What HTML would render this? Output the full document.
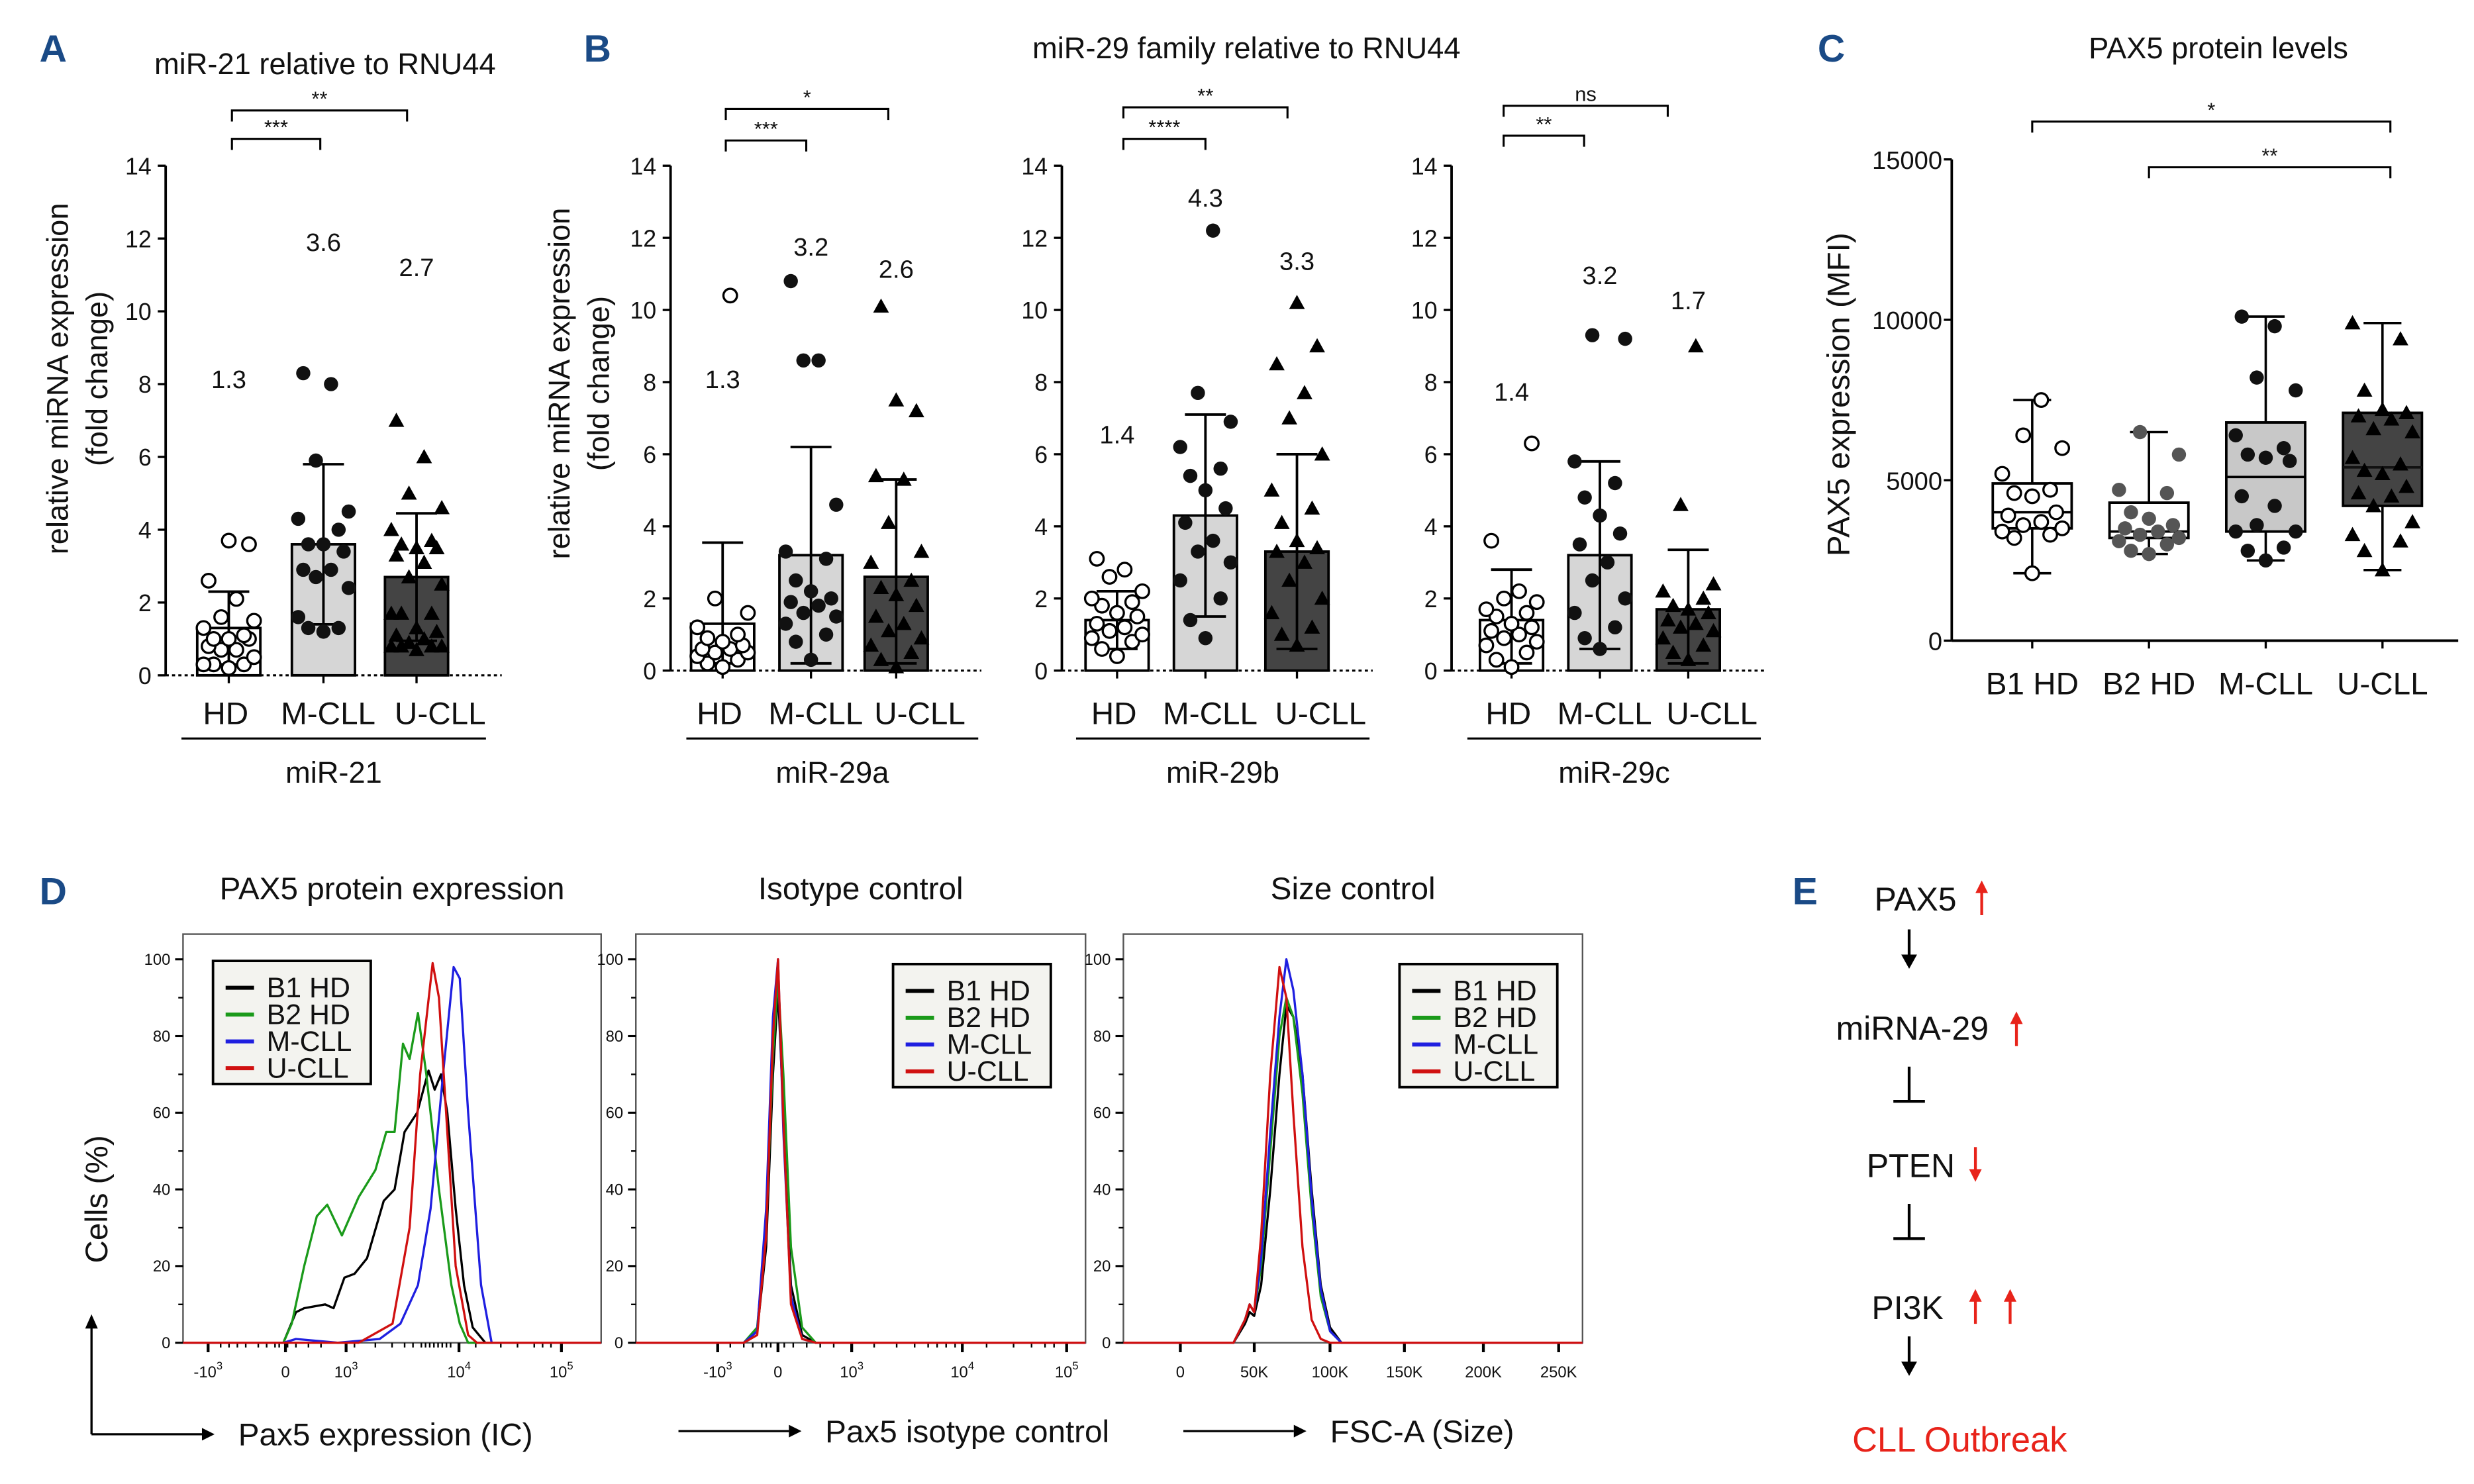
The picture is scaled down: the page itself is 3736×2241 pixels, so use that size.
<!DOCTYPE html>
<html><head><meta charset="utf-8"><style>
html,body{margin:0;padding:0;background:#fff}
svg{display:block}
text{font-family:"Liberation Sans",Arial,sans-serif;fill:#111}
</style></head><body>
<svg id="fig" width="3736" height="2241" viewBox="0 0 1568 940.5" xmlns="http://www.w3.org/2000/svg">
<rect width="1568" height="940.5" fill="#fff"/>
<g id="g"></g>
</svg>
<script>
// ---------- DATA ----------
const barGroups = ["HD","M-CLL","U-CLL"];
const miR21Means = [1.3,3.6,2.7];
const miR21SD = [1.0,2.2,1.75];
const miR29aMeans = [1.3,3.2,2.6];
const miR29aSD = [2.25,3.0,2.7];
const miR29bMeans = [1.4,4.3,3.3];
const miR29bSD = [0.8,2.8,2.7];
const miR29cMeans = [1.4,3.2,1.7];
const miR29cSD = [1.4,2.6,1.65];
const yTicksMiR = [0,2,4,6,8,10,12,14];
const miR21HD = [0.2,0.3,0.3,0.3,0.5,0.7,0.7,0.8,1.0,1.0,1.0,1.1,1.3,1.5,1.6,2.1,2.6,3.6,3.7];
const miR21M = [1.2,1.3,1.3,1.6,2.4,2.7,2.9,2.9,3.4,3.6,3.6,4.0,4.3,4.5,5.9,8.0,8.3];
const miR21U = [0.7,0.8,0.8,0.8,0.8,0.9,1.0,1.1,1.2,1.3,1.7,1.7,1.7,2.5,2.7,3.1,3.3,3.5,3.5,3.6,3.7,4.0,4.6,5.0,6.0,7.0];
const miR29aHD = [0.1,0.2,0.3,0.4,0.5,0.5,0.6,0.6,0.7,0.8,0.9,1.0,1.2,1.6,2.0,10.4];
const miR29aM = [0.3,0.8,1.0,1.3,1.5,1.6,1.8,1.9,2.0,2.2,2.5,3.1,3.3,4.6,8.6,8.6,10.8];
const miR29aU = [0.1,0.3,0.5,0.7,0.9,1.1,1.3,1.5,1.8,2.1,2.3,2.5,3.0,3.3,4.1,5.3,5.4,7.2,7.5,10.1];
const miR29bHD = [0.4,0.6,0.8,0.9,1.0,1.1,1.2,1.3,1.5,1.6,1.8,1.9,2.0,2.2,2.6,2.8,3.1];
const miR29bM = [0.9,1.4,2.0,2.5,3.0,3.3,3.6,4.1,4.5,5.0,5.4,5.6,6.2,6.9,7.7,12.2];
const miR29bU = [0.7,1.0,1.2,1.6,2.0,2.5,3.0,3.3,3.4,3.6,4.1,4.5,5.0,6.0,7.0,7.7,8.5,9.0,10.2];
const miR29cHD = [0.1,0.3,0.5,0.7,0.8,0.9,1.0,1.1,1.2,1.3,1.5,1.6,1.7,1.9,2.0,2.2,3.6,6.3];
const miR29cM = [0.6,0.9,1.2,1.6,2.0,2.5,3.0,3.5,3.8,4.3,4.8,5.2,5.8,9.2,9.3];
const miR29cU = [0.3,0.5,0.7,0.9,1.1,1.2,1.3,1.4,1.6,1.7,1.8,2.0,2.2,2.4,4.6,9.0];
const boxGroups = ["B1 HD","B2 HD","M-CLL","U-CLL"];
const boxMin = [2100,2700,2500,2200];
const boxQ1 = [3500,3200,3400,4200];
const boxMed = [4000,3400,5100,5400];
const boxQ3 = [4900,4300,6800,7100];
const boxMax = [7500,6500,10100,9900];
const yTicksPax = [0,5000,10000,15000];
const paxB1 = [2100,3200,3300,3400,3500,3600,3700,3900,4000,4500,4600,4700,5200,6000,6400,7500];
const paxB2 = [2700,2800,3000,3100,3200,3300,3400,3500,3600,3800,4000,4600,4700,5800,6500];
const paxM = [2500,2800,2900,3400,3400,3600,4200,4500,5600,5700,5800,6000,6400,7800,8200,9800,10100];
const paxU = [2200,2800,3100,3300,3700,4200,4500,4600,4800,5200,5300,5500,5700,6500,6600,6900,7000,7100,7200,7800,9400,9900];
const histTicksY = [0,20,40,60,80,100];
const legendNames = ["B1 HD","B2 HD","M-CLL","U-CLL"];
const legendColors = ["#000","#1a9a1a","#1f1fe0","#d01010"];
// histogram curves: x in axis units 0..100, y in % of max
const h1X_B1 = [0,24,27,29,34,36,38.6,41,44,48,50.6,53,56,58.7,60.2,61.7,63.2,65.2,67.2,69.3,72.3,100];
const h1Y_B1 = [0,0,8,9,10,9,17,18,22,37,40,55,60,71,66,70,60,35,15,4,0,0];
const h1X_B2 = [0,24,26,29,32,34.5,38,42,46,48.6,50.6,52.6,54.2,56.2,58.2,61.2,64.2,66.2,68.2,100];
const h1Y_B2 = [0,0,5,20,33,36,28,38,45,55,55,78,74,86,70,40,15,5,0,0];
const h1X_M = [0,24,27,37,47,52,56.2,59.2,62.2,64.7,66.2,68.2,71.3,73.8,100];
const h1Y_M = [0,0,1,0,1,5,15,35,70,98,95,60,15,0,0];
const h1X_U = [0,42,50.1,54.2,56.7,59.7,61.2,63.2,65.2,68.2,70.3,100];
const h1Y_U = [0,0,5,30,70,99,90,55,20,2,0,0];
const h2X = [0,24,27,29,30.5,31.6,32.8,34.5,37,40,100];
const h2Y_B1 = [0,0,3,25,70,92,60,15,2,0,0];
const h2Y_B2 = [0,0,4,30,75,95,70,25,4,0,0];
const h2Y_M = [0,0,3,35,85,100,55,12,1,0,0];
const h2Y_U = [0,0,2,28,80,100,58,10,1,0,0];
const h3X = [0,24,26.5,27.5,28.5,30,32,34,35.5,37,39,41,43,45,47.5,100];
const h3Y_B1 = [0,0,5,8,7,15,40,70,88,85,70,40,15,4,0,0];
const h3Y_B2 = [0,0,6,10,8,20,50,80,90,85,65,35,12,3,0,0];
const h3Y_M = [0,0,6,10,8,22,55,85,100,92,70,38,14,3,0,0];
const h3Y_U = [0,0,6,10,8,28,70,98,90,60,25,6,1,0,0,0];

// ---------- HELPERS ----------
const NS="http://www.w3.org/2000/svg";
const root=document.getElementById('g');
function mk(tag,attrs,parent,txt){const e=document.createElementNS(NS,tag);for(const k in attrs)e.setAttribute(k,attrs[k]);if(txt!==undefined)e.textContent=txt;(parent||root).appendChild(e);return e;}
function T(x,y,s,str,o){o=o||{};const e=mk('text',Object.assign({x:x,y:y,'font-size':s,'text-anchor':o.a||'middle'},o.extra||{}),o.p,str);


return e;}
function L(x1,y1,x2,y2,w,c,p){return mk('line',{x1,y1,x2,y2,stroke:c||'#000','stroke-width':w||1.5},p);}

function bracket(x1,x2,y,lab,name){const g=mk('g',{});


mk('path',{d:`M${x1} ${y+7}V${y}H${x2}V${y+7}`,fill:'none',stroke:'#000','stroke-width':1.3},g);
T((x1+x2)/2,y-3,13,lab,{p:g,n:'significance-label'});}

function panelLetter(x,y,l){const e=T(x,y,24,l,{a:'start',n:'panel-letter-'+l.toLowerCase(),extra:{'font-weight':'bold',fill:'#1a4a86'}});e.style.fill='#1a4a86';}

function marker(g,x,y,shape){
 if(shape==='open')mk('circle',{cx:x,cy:y,r:4.3,fill:'#fff',stroke:'#000','stroke-width':1.4},g);
 else if(shape==='dot')mk('circle',{cx:x,cy:y,r:4.5,fill:'#111'},g);
 else if(shape==='grey')mk('circle',{cx:x,cy:y,r:4.5,fill:'#555'},g);
 else mk('path',{d:`M${x} ${y-5}L${x+5} ${y+4}L${x-5} ${y+4}Z`,fill:'#000'},g);
}
const JIT=[0,-0.6,0.6,-1,1,-0.3,0.3,-0.8,0.8];
function jitter(i,n,spread){return JIT[i%JIT.length]*spread;}

// ---------- BAR PANELS ----------
function barPanel(o){
 const g=mk('g',{});
 
 
 const y0=o.y0,y14=o.y14,ys=v=>y0-(y0-y14)*v/14;
 L(o.ax,y14,o.ax,y0,1.6,'#000',g);
 yTicksMiR.forEach(t=>{L(o.ax-5,ys(t),o.ax,ys(t),1.4,'#000',g);T(o.ax-9,ys(t)+5.5,15,String(t),{p:g,a:'end',n:'y-tick-label'});});
 mk('line',{x1:o.ax,y1:y0,x2:o.xr,y2:y0,stroke:'#000','stroke-width':1.3,'stroke-dasharray':'2 2'},g);
 const fills=['#fff','#d6d6d6','#444'];
 const shapes=['open','dot','tri'];
 const labOff=[-2,3,15];
 o.means.forEach((m,i)=>{
  const cx=o.cx[i];
  const b=mk('rect',{x:cx-20,y:ys(m),width:40,height:y0-ys(m),fill:fills[i],stroke:'#000','stroke-width':1.6},g);
  
  
  const hi=m+o.sd[i],lo=Math.max(0.2,m-o.sd[i]);
  L(cx,ys(hi),cx,ys(lo),1.6,'#000',g);L(cx-13,ys(hi),cx+13,ys(hi),1.6,'#000',g);L(cx-13,ys(lo),cx+13,ys(lo),1.6,'#000',g);
  L(cx,y0,cx,y0+5,1.4,'#000',g);
  o.pts[i].forEach((v,j)=>marker(g,cx+jitter(j,o.pts[i].length,16),ys(v),shapes[i]));
  T(cx,o.labY[i],16,m.toFixed(1),{p:g,n:'mean-value-label'});
  T(cx+labOff[i],459,20,barGroups[i],{p:g,n:'x-category-label'});
 });
 L(o.ulx1,468,o.ulx2,468,1.3,'#000',g);
 T((o.ulx1+o.ulx2)/2,496,19,o.mir,{p:g,n:'mirna-label'});
}
barPanel({name:'mir-21-chart',ax:105,xr:318,y0:428,y14:105,cx:[145,205,264],means:miR21Means,sd:miR21SD,pts:[miR21HD,miR21M,miR21U],labY:[246,159,175],ulx1:115,ulx2:308,mir:'miR-21'});
barPanel({name:'mir-29a-chart',ax:425,xr:622,y0:425,y14:105,cx:[458,514,568],means:miR29aMeans,sd:miR29aSD,pts:[miR29aHD,miR29aM,miR29aU],labY:[246,162,176],ulx1:435,ulx2:620,mir:'miR-29a'});
barPanel({name:'mir-29b-chart',ax:673,xr:870,y0:425,y14:105,cx:[708,764,822],means:miR29bMeans,sd:miR29bSD,pts:[miR29bHD,miR29bM,miR29bU],labY:[281,131,171],ulx1:682,ulx2:868,mir:'miR-29b'});
barPanel({name:'mir-29c-chart',ax:920,xr:1118,y0:425,y14:105,cx:[958,1014,1070],means:miR29cMeans,sd:miR29cSD,pts:[miR29cHD,miR29cM,miR29cU],labY:[254,180,196],ulx1:930,ulx2:1116,mir:'miR-29c'});

panelLetter(25,39,'A');panelLetter(370,39,'B');panelLetter(1152,39,'C');panelLetter(25,573,'D');panelLetter(1136,573,'E');
T(206,47,19,'miR-21 relative to RNU44',{n:'panel-a-title'});
T(790,37,19,'miR-29 family relative to RNU44',{n:'panel-b-title'});
T(1406,37,19,'PAX5 protein levels',{n:'panel-c-title'});
T(43,240,19,'relative miRNA expression',{n:'y-axis-title',extra:{transform:'rotate(-90 43 240)'}});
T(68,240,19,'(fold change)',{n:'y-axis-title-2',extra:{transform:'rotate(-90 68 240)'}});
T(361,243,19,'relative miRNA expression',{n:'y-axis-title-b',extra:{transform:'rotate(-90 361 243)'}});
T(386,243,19,'(fold change)',{n:'y-axis-title-b-2',extra:{transform:'rotate(-90 386 243)'}});
bracket(147,258,70,'**','sig-hd-ucll-21');bracket(147,203,88,'***','sig-hd-mcll-21');
bracket(460,563,69,'*','sig-hd-ucll-29a');bracket(460,511,89,'***','sig-hd-mcll-29a');
bracket(712,816,68,'**','sig-hd-ucll-29b');bracket(712,764,88,'****','sig-hd-mcll-29b');
bracket(953,1057,67,'ns','sig-hd-ucll-29c');bracket(953,1004,86,'**','sig-hd-mcll-29c');

// ---------- BOX PANEL C ----------
(function(){
 const g=mk('g',{});
 
 
 const ax=1237,y0=406,yT=101,ys=v=>y0-(y0-yT)*v/15000;
 L(ax,yT,ax,y0,1.6,'#000',g);L(ax,y0,1558,y0,1.6,'#000',g);
 yTicksPax.forEach(t=>{L(ax-5,ys(t),ax,ys(t),1.4,'#000',g);T(ax-6,ys(t)+6,16,String(t),{p:g,a:'end',n:'y-tick-label'});});
 const cx=[1288,1362,1436,1510],fills=['#fff','#fff','#c8c8c8','#444'],shapes=['open','grey','dot','tri'];
 const pts=[paxB1,paxB2,paxM,paxU];
 boxGroups.forEach((n,i)=>{
  const c=cx[i];
  L(c,ys(boxMax[i]),c,ys(boxMin[i]),1.5,'#000',g);
  L(c-12,ys(boxMax[i]),c+12,ys(boxMax[i]),1.5,'#000',g);L(c-12,ys(boxMin[i]),c+12,ys(boxMin[i]),1.5,'#000',g);
  const b=mk('rect',{x:c-25,y:ys(boxQ3[i]),width:50,height:ys(boxQ1[i])-ys(boxQ3[i]),fill:fills[i],stroke:'#000','stroke-width':1.6},g);
  
  
  L(c-25,ys(boxMed[i]),c+25,ys(boxMed[i]),1.5,i===3?'#111':'#000',g);
  L(c,y0,c,y0+5,1.4,'#000',g);
  pts[i].forEach((v,j)=>marker(g,c+jitter(j,pts[i].length,19),ys(v),shapes[i]));
  T(c,440,20,n,{p:g,n:'x-category-label'});
 });
 T(1172,250,20,'PAX5 expression (MFI)',{p:g,n:'y-axis-title',extra:{transform:'rotate(-90 1172 250)'}});
 bracket(1288,1515,77,'*','sig-b1-ucll');bracket(1362,1515,106,'**','sig-b2-ucll');
})();

// ---------- HISTOGRAMS D ----------
function hist(o){
 const g=mk('g',{});
 
 
 const {l,r,top,base}=o, y100=base-243;
 const xs=u=>l+(r-l)*u/100, ys=v=>base-(base-y100)*v/100;
 mk('rect',{x:l,y:top,width:r-l,height:base-top,fill:'none',stroke:'#555','stroke-width':1},g);
 histTicksY.forEach(t=>{L(l-5,ys(t),l,ys(t),1.3,'#000',g);T(l-8,ys(t)+3.5,10,String(t),{p:g,a:'end',n:'y-tick-label',extra:{'font-family':'DejaVu Sans Condensed'}});});
 for(let t=10;t<100;t+=10)L(l-3,ys(t),l,ys(t),1,'#000',g);
 o.xt.forEach(t=>{L(xs(t.u),base,xs(t.u),base+6,1.8,'#000',g);const e=T(xs(t.u),base+22,10,t.s,{p:g,n:'x-tick-label',extra:{'font-family':'DejaVu Sans Condensed'}});if(t.sup){mk('tspan',{dy:-5,'font-size':7},e,t.sup);}});
 (o.minor||[]).forEach(u=>L(xs(u),base,xs(u),base+3,1,'#000',g));
 o.curves.forEach((c,k)=>{
  const d=c.x.map((u,i)=>(i?'L':'M')+xs(u).toFixed(1)+' '+ys(c.y[i]).toFixed(1)).join('');
  const p=mk('path',{d:d,fill:'none',stroke:legendColors[k],'stroke-width':1.4,'stroke-linejoin':'round'},g);
  
  
 });
 const lg=mk('g',{},g);
 
 
 mk('rect',{x:o.lx,y:o.ly,width:100,height:78,fill:'#f3f3ef',stroke:'#000','stroke-width':1.6},lg);
 legendNames.forEach((n,k)=>{L(o.lx+8,o.ly+17+k*17,o.lx+26,o.ly+17+k*17,2.5,legendColors[k],lg);T(o.lx+34,o.ly+23+k*17,18,n,{p:lg,a:'start',n:'legend-entry'});});
 T((l+r)/2,o.ty,20,o.title,{p:g,n:'histogram-title'});
 L(o.axl,o.axy,o.axl+70,o.axy,1.4,'#000',g);
 mk('path',{d:`M${o.axl+70} ${o.axy-4}L${o.axl+78} ${o.axy}L${o.axl+70} ${o.axy+4}Z`,fill:'#000'},g);
 T(o.axl+93,o.axy+7,20,o.xtitle,{p:g,a:'start',n:'x-axis-title'});
}
hist({name:'pax5-histogram',l:116,r:381,top:592,base:851,title:'PAX5 protein expression',ty:570,lx:135,ly:609,axl:58,axy:909,xtitle:'Pax5 expression (IC)',
 xt:[{u:6,s:'-10',sup:'3'},{u:24.5,s:'0'},{u:39,s:'10',sup:'3'},{u:66,s:'10',sup:'4'},{u:90.5,s:'10',sup:'5'}],
 minor:[9,11,13,15,18,20,22,23,25,27,30,33,41,46,50,53,55,57,58,59,60,61,62,63,64,70,76,80,84,86,88],
 curves:[{x:h1X_B1,y:h1Y_B1},{x:h1X_B2,y:h1Y_B2},{x:h1X_M,y:h1Y_M},{x:h1X_U,y:h1Y_U}]});
hist({name:'isotype-histogram',l:403,r:688,top:592,base:851,title:'Isotype control',ty:570,lx:566,ly:611,axl:430,axy:907,xtitle:'Pax5 isotype control',
 xt:[{u:18.2,s:'-10',sup:'3'},{u:31.6,s:'0'},{u:48,s:'10',sup:'3'},{u:72.6,s:'10',sup:'4'},{u:95.8,s:'10',sup:'5'}],
 minor:[21,24,26,28,29,30,33,35,38,41,44,53,58,62,65,67,69,71,78,84,88,91,93],
 curves:[{x:h2X,y:h2Y_B1},{x:h2X,y:h2Y_B2},{x:h2X,y:h2Y_M},{x:h2X,y:h2Y_U}]});
hist({name:'size-histogram',l:712,r:1003,top:592,base:851,title:'Size control',ty:570,lx:887,ly:611,axl:750,axy:907,xtitle:'FSC-A (Size)',
 xt:[{u:12.4,s:'0'},{u:28.5,s:'50K'},{u:45,s:'100K'},{u:61.2,s:'150K'},{u:78.4,s:'200K'},{u:94.8,s:'250K'}],
 minor:[],
 curves:[{x:h3X,y:h3Y_B1},{x:h3X,y:h3Y_B2},{x:h3X,y:h3Y_M},{x:h3X,y:h3Y_U}]});
T(68,760,20,'Cells (%)',{n:'histogram-y-title',extra:{transform:'rotate(-90 68 760)'}});
L(58,840,58,909,1.4);mk('path',{d:'M54 842L58 833L62 842Z',fill:'#000'});

// ---------- PANEL E ----------
(function(){
 const g=mk('g',{});
 
 
 const red='#e8231a';
 function up(x,y){L(x,y+22,x,y+4,1.8,red,g);mk('path',{d:`M${x-4} ${y+8}L${x} ${y}L${x+4} ${y+8}Z`,fill:red},g);}
 function down(x,y){L(x,y,x,y+18,1.8,red,g);mk('path',{d:`M${x-4} ${y+14}L${x} ${y+22}L${x+4} ${y+14}Z`,fill:red},g);}
 function arr(y){L(1210,y,1210,y+20,1.8,'#000',g);mk('path',{d:`M1205 ${y+16}L1210 ${y+25}L1215 ${y+16}Z`,fill:'#000'},g);}
 function tee(y){L(1210,y,1210,y+22,1.8,'#000',g);L(1200,y+22,1220,y+22,1.8,'#000',g);}
 T(1214,577,21,'PAX5',{p:g,n:'pax5-node'});up(1256,558);
 arr(589);
 T(1212,659,21,'miRNA-29',{p:g,n:'mirna-29-node'});up(1278,641);
 tee(676);
 T(1211,746,21,'PTEN',{p:g,n:'pten-node'});down(1252,727);
 tee(763);
 T(1209,836,21,'PI3K',{p:g,n:'pi3k-node'});up(1252,817);up(1274,817);
 arr(847);
 const e=T(1242,920,22,'CLL Outbreak',{p:g,n:'cll-outbreak-node'});e.style.fill=red;
})();
</script>
</body></html>
